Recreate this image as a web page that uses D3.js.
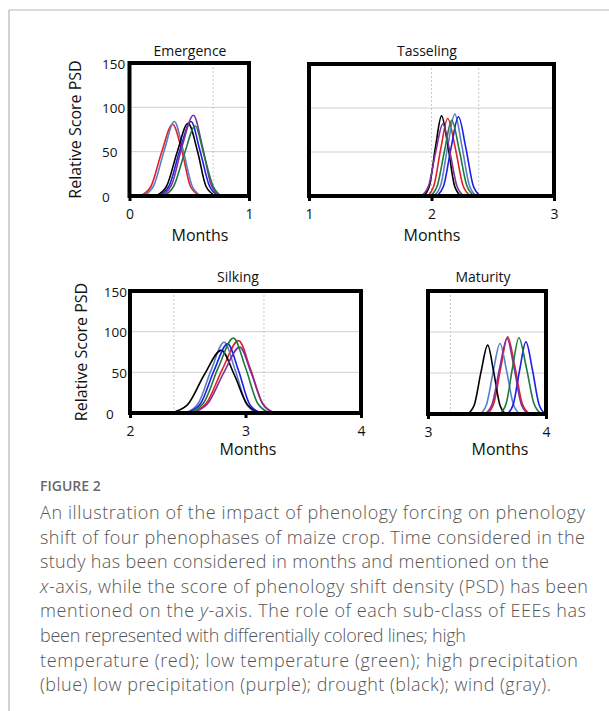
<!DOCTYPE html>
<html>
<head>
<meta charset="utf-8">
<script src="https://cdn.jsdelivr.net/npm/d3@7"></script>
<style>
  body { margin: 0; background: #fff; }
  text { font-family: "Open Sans", "Noto Sans", sans-serif; }
</style>
</head>
<body>
<svg id="fig" width="609" height="711"></svg>
<script>
/****
 *  Figure 2 : phenology shift density (PSD) of four maize phenophases
 */

// series order used by every curve array below
const seriesKeys = ["hiTemp", "wind", "drought", "hiPrec", "loPrec", "loTemp"];
const seriesColors = {
  hiTemp: "#e3202b",
  loTemp: "#1c7b3e",
  hiPrec: "#1d1ee6",
  loPrec: "#80309a",
  drought: "#000000",
  wind: "#5a7ec8"
};

const yTicks = [0, 50, 100, 150];
const yGrid = [50, 100];

// [month, score] points
const emergenceCurves = [
  [[0.09, 0], [0.18, 11], [0.27, 50], [0.36, 81], [0.44, 50], [0.51, 11], [0.59, 0]],
  [[0.11, 0], [0.20, 11], [0.29, 51], [0.375, 84], [0.45, 51], [0.525, 11], [0.60, 0]],
  [[0.22, 0], [0.31, 11], [0.40, 50], [0.49, 82], [0.57, 50], [0.64, 11], [0.72, 0]],
  [[0.24, 0], [0.33, 11], [0.42, 51], [0.515, 84], [0.59, 51], [0.67, 11], [0.745, 0]],
  [[0.255, 0], [0.35, 12], [0.44, 56], [0.535, 91], [0.61, 56], [0.685, 12], [0.76, 0]],
  [[0.28, 0], [0.37, 11], [0.46, 48], [0.55, 79], [0.62, 48], [0.70, 11], [0.77, 0]]
];
const tasselingCurves = [
  [[1.965, 0], [2.02, 12], [2.076, 54], [2.132, 88], [2.195, 54], [2.257, 12], [2.32, 0]],
  [[2.02, 0], [2.077, 13], [2.133, 57], [2.19, 93], [2.248, 57], [2.307, 13], [2.365, 0]],
  [[1.935, 0], [1.984, 12], [2.033, 56], [2.082, 91], [2.135, 56], [2.187, 12], [2.24, 0]],
  [[2.04, 0], [2.10, 12], [2.16, 55], [2.22, 90], [2.28, 55], [2.34, 12], [2.40, 0]],
  [[1.915, 0], [1.975, 11], [2.034, 50], [2.093, 82], [2.15, 50], [2.208, 11], [2.265, 0]],
  [[1.99, 0], [2.048, 12], [2.107, 52], [2.165, 86], [2.227, 52], [2.288, 12], [2.35, 0]]
];
const silkingCurves = [
  [[2.52, 0], [2.66, 12], [2.80, 54], [2.94, 89], [3.043, 54], [3.147, 12], [3.25, 0]],
  [[2.48, 0], [2.592, 12], [2.703, 53], [2.815, 87], [2.91, 53], [3.005, 12], [3.10, 0]],
  [[2.35, 0], [2.497, 10], [2.643, 47], [2.79, 77], [2.903, 47], [3.017, 10], [3.13, 0]],
  [[2.49, 0], [2.608, 11], [2.727, 52], [2.845, 85], [2.94, 52], [3.035, 11], [3.13, 0]],
  [[2.53, 0], [2.67, 11], [2.81, 49], [2.95, 81], [3.05, 49], [3.15, 11], [3.25, 0]],
  [[2.505, 0], [2.635, 12], [2.765, 56], [2.895, 92], [3.0, 56], [3.105, 12], [3.21, 0]]
];
const maturityCurves = [
  [[3.50, 0], [3.558, 13], [3.617, 57], [3.675, 94], [3.737, 57], [3.798, 13], [3.86, 0]],
  [[3.44, 0], [3.497, 12], [3.553, 52], [3.61, 86], [3.667, 52], [3.723, 12], [3.78, 0]],
  [[3.335, 0], [3.392, 11], [3.449, 51], [3.506, 84], [3.557, 51], [3.609, 11], [3.66, 0]],
  [[3.67, 0], [3.723, 12], [3.777, 54], [3.83, 88], [3.885, 54], [3.94, 12], [3.995, 0]],
  [[3.48, 0], [3.543, 12], [3.607, 56], [3.67, 92], [3.73, 56], [3.79, 12], [3.85, 0]],
  [[3.61, 0], [3.663, 13], [3.717, 57], [3.77, 93], [3.833, 57], [3.897, 13], [3.96, 0]]
];

// dotted reference lines (months)
const emergenceMarks = [0.7];
const tasselingMarks = [2.0, 2.385];
const silkingMarks = [2.38, 3.16];
const maturityMarks = [3.19];

const captionLines = [
  "An illustration of the impact of phenology forcing on phenology",
  "shift of four phenophases of maize crop. Time considered in the",
  "study has been considered in months and mentioned on the",
  "|x|-axis, while the score of phenology shift density (PSD) has been",
  "mentioned on the |y|-axis. The role of each sub-class of EEEs has",
  "been represented with differentially colored lines; high",
  "temperature (red); low temperature (green); high precipitation",
  "(blue) low precipitation (purple); drought (black); wind (gray)."
];
// right end (px) of each caption line in the picture
const captionEnds = [585, 585, 549, 588, 586, 466, 578, 551];

const panels = [
  { title: "Emergence", curves: emergenceCurves, marks: emergenceMarks, xDomain: [0, 1], xTicks: [0, 1],
    left: 129.5, right: 249, top: 63, bottom: 196, titleX: 190, titleY: 56, monthsX: 200, monthsY: 241,
    yLabel: { x: 81, anchor: "start", tx: 102 } },
  { title: "Tasseling", curves: tasselingCurves, marks: tasselingMarks, xDomain: [1, 3], xTicks: [1, 2, 3],
    left: 309, right: 554, top: 64, bottom: 196, titleX: 427, titleY: 56, monthsX: 432, monthsY: 241 },
  { title: "Silking", curves: silkingCurves, marks: silkingMarks, xDomain: [2, 4], xTicks: [2, 3, 4],
    left: 130, right: 361, top: 291, bottom: 413, titleX: 238, titleY: 282, monthsX: 248, monthsY: 455,
    yLabel: { x: 87, anchor: "end", tx: 127 } },
  { title: "Maturity", curves: maturityCurves, marks: maturityMarks, xDomain: [3, 4], xTicks: [3, 4],
    left: 428, right: 546, top: 291, bottom: 414, titleX: 483, titleY: 282, monthsX: 500, monthsY: 455 }
];

const svg = d3.select("#fig");

// frame lines of the figure box
svg.append("line").attr("x1", 9).attr("x2", 609).attr("y1", 10).attr("y2", 10)
   .attr("stroke", "#b5b5b5").attr("stroke-width", 1.2);
svg.append("line").attr("x1", 9).attr("x2", 9).attr("y1", 10).attr("y2", 711)
   .attr("stroke", "#b5b5b5").attr("stroke-width", 1.2);

function drawPanel(p) {
  let g = svg.append("g");
  let x = d3.scaleLinear().domain(p.xDomain).range([p.left, p.right]);
  let y = d3.scaleLinear().domain([0, 150]).range([p.bottom, p.top]);

  // grid
  g.selectAll("line.hgrid").data(yGrid).join("line")
    .attr("class", "hgrid")
    .attr("x1", p.left).attr("x2", p.right)
    .attr("y1", d => y(d)).attr("y2", d => y(d))
    .attr("stroke", "#cfcfcf").attr("stroke-width", 1);
  g.selectAll("line.vmark").data(p.marks).join("line")
    .attr("class", "vmark")
    .attr("x1", d => x(d)).attr("x2", d => x(d))
    .attr("y1", p.top).attr("y2", p.bottom)
    .attr("stroke", "#c8c8c8").attr("stroke-width", 1)
    .attr("stroke-dasharray", "2,2");

  // curves
  let line = d3.line()
               .x(d => x(d[0]))
               .y(d => y(d[1]))
               .curve(d3.curveMonotoneX);
  p.curves.forEach((pts, i) => {
    g.append("path")
     .datum(pts)
     .attr("fill", "none")
     .attr("stroke", seriesColors[seriesKeys[i]])
     .attr("stroke-width", 1.6)
     .attr("d", line);
  });

  // box
  g.append("rect")
   .attr("x", p.left).attr("y", p.top)
   .attr("width", p.right - p.left).attr("height", p.bottom - p.top)
   .attr("fill", "none").attr("stroke", "#000").attr("stroke-width", 4);

  // x axis
  let ax = g.append("g")
            .attr("transform", "translate(0," + p.bottom + ")")
            .call(d3.axisBottom(x).tickValues(p.xTicks).tickFormat(d3.format("d"))
                    .tickSize(5).tickPadding(8));
  ax.select(".domain").remove();
  ax.selectAll(".tick line").attr("stroke", "#000").attr("stroke-width", 3);
  ax.selectAll(".tick text").attr("font-size", 14).attr("fill", "#111")
    .style("font-family", "\"Open Sans\", sans-serif");

  // y ticks + label
  if (p.yLabel) {
    g.selectAll("text.ytick").data(yTicks).join("text")
      .attr("class", "ytick")
      .attr("x", d => (p.yLabel.anchor === "end" && d === 0) ? p.yLabel.tx - 21 : p.yLabel.tx)
      .attr("y", d => y(d) + 1)
      .attr("dy", "0.35em")
      .attr("text-anchor", d => (p.yLabel.anchor === "end" && d === 0) ? "start" : p.yLabel.anchor)
      .attr("font-size", 13.5)
      .attr("fill", "#111")
      .text(d => d);
    g.append("text")
     .attr("transform", "translate(" + p.yLabel.x + "," + ((p.top + p.bottom) / 2) + ") rotate(-90)")
     .attr("text-anchor", "middle")
     .attr("font-size", 16)
     .attr("fill", "#111")
     .text("Relative Score PSD");
  }

  // titles
  g.append("text").attr("x", p.titleX).attr("y", p.titleY)
   .attr("text-anchor", "middle").attr("font-size", 14).attr("fill", "#111").text(p.title);
  g.append("text").attr("x", p.monthsX).attr("y", p.monthsY)
   .attr("text-anchor", "middle").attr("font-size", 16).attr("fill", "#111").text("Months");
}

panels.forEach(drawPanel);

// caption
svg.append("text").attr("x", 40).attr("y", 491)
   .attr("font-size", 14).attr("font-weight", 600).attr("fill", "#6a6a6a")
   .text("FIGURE 2");

let cap = svg.append("g");
captionLines.forEach((ln, i) => {
  let t = cap.append("text")
             .attr("x", 40).attr("y", 519 + i * 24.6)
             .attr("font-size", 18).attr("font-weight", 300).attr("fill", "#555")
             .attr("textLength", captionEnds[i] - 40)
             .attr("lengthAdjust", "spacing");
  ln.split("|").forEach((part, j) => {
    t.append("tspan").attr("font-style", j % 2 ? "italic" : null).text(part);
  });
});
</script>
</body>
</html>
